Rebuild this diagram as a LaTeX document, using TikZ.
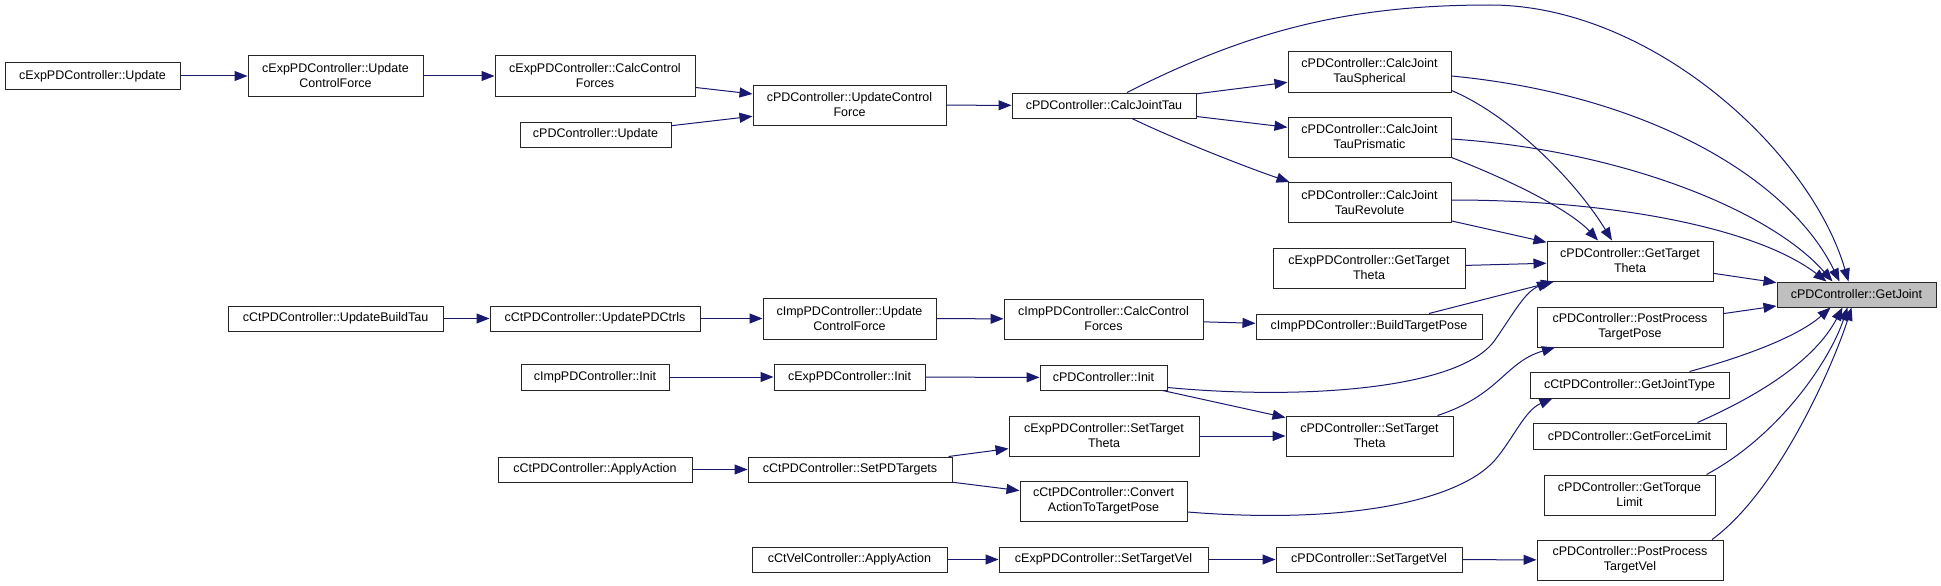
\documentclass[tikz,border=0pt]{standalone}
\usepackage{fontspec}
\setmainfont{Liberation Sans}
\usetikzlibrary{arrows.meta,calc}
\definecolor{edgecol}{RGB}{25,25,112}
\definecolor{hl}{RGB}{191,191,191}
\newcommand\bx[7][]{\node[box,#1,minimum width=#5pt,minimum height=#6pt] (#2) at (#3,#4) {#7};}
\begin{document}
\begin{tikzpicture}[x=1pt,y=-1pt,
  box/.style={draw=black!85, line width=1pt, fill=white, align=center, inner sep=0pt,
    font=\fontsize{12.5}{15}\selectfont},
  edge/.style={draw=edgecol, line width=1pt, -{Triangle[length=13pt,width=10pt]}}]
\useasboundingbox[fill=white] (0,0) rectangle (1941,586);

\bx{expUpd}{92.5}{76}{175}{26}{cExpPDController::Update}
\bx{expUpdCF}{335.5}{76}{175}{40}{cExpPDController::Update\\ControlForce}
\bx{expCalcCF}{595}{76}{200}{40}{cExpPDController::CalcControl\\Forces}
\bx{pdUpdCF}{849.5}{105}{193}{40}{cPDController::UpdateControl\\Force}
\bx{pdUpd}{595.5}{134.5}{151}{25}{cPDController::Update}
\bx{calcTau}{1104}{105.5}{184}{25}{cPDController::CalcJointTau}
\bx{tauSph}{1369.5}{72}{163}{40}{cPDController::CalcJoint\\TauSpherical}
\bx{tauPri}{1369.5}{137}{163}{40}{cPDController::CalcJoint\\TauPrismatic}
\bx{tauRev}{1369.5}{202.5}{163}{40}{cPDController::CalcJoint\\TauRevolute}
\bx{getTT}{1630}{261}{166}{40}{cPDController::GetTarget\\Theta}
\bx[fill=hl]{getJoint}{1856.5}{294.5}{159}{25}{cPDController::GetJoint}
\bx{expGetTT}{1369}{268}{192}{40}{cExpPDController::GetTarget\\Theta}
\bx{buildTP}{1369}{326.5}{226}{25}{cImpPDController::BuildTargetPose}
\bx{ppTP}{1630}{327}{186}{40}{cPDController::PostProcess\\TargetPose}
\bx{getJT}{1629.5}{385}{199}{26}{cCtPDController::GetJointType}
\bx{getFL}{1629.5}{436}{193}{26}{cPDController::GetForceLimit}
\bx{getTL}{1629.5}{495}{171}{40}{cPDController::GetTorque\\Limit}
\bx{ppTV}{1630}{560}{186}{40}{cPDController::PostProcess\\TargetVel}
\bx{ctUBT}{335.5}{318.5}{215}{25}{cCtPDController::UpdateBuildTau}
\bx{ctUPD}{595}{318.5}{210}{25}{cCtPDController::UpdatePDCtrls}
\bx{impUCF}{849.5}{318.5}{173}{41}{cImpPDController::Update\\ControlForce}
\bx{impCCF}{1103.5}{319}{199}{40}{cImpPDController::CalcControl\\Forces}
\bx{impInit}{595}{377}{148}{26}{cImpPDController::Init}
\bx{expInit}{849.5}{377}{151}{26}{cExpPDController::Init}
\bx{pdInit}{1103.5}{377.5}{127}{25}{cPDController::Init}
\bx{expSTT}{1104}{436}{190}{40}{cExpPDController::SetTarget\\Theta}
\bx{pdSTT}{1369.5}{436}{167}{40}{cPDController::SetTarget\\Theta}
\bx{convA}{1103.5}{501}{167}{40}{cCtPDController::Convert\\ActionToTargetPose}
\bx{expSTV}{1103.5}{559.5}{209}{25}{cExpPDController::SetTargetVel}
\bx{pdSTV}{1369}{559.5}{186}{25}{cPDController::SetTargetVel}
\bx{ctApply}{595}{469.5}{194}{25}{cCtPDController::ApplyAction}
\bx{setPD}{850}{469.5}{204}{25}{cCtPDController::SetPDTargets}
\bx{ctVelApply}{849.5}{559.5}{195}{25}{cCtVelController::ApplyAction}

% straight edges
\draw[edge] (expUpd) -- (expUpdCF);
\draw[edge] (expUpdCF) -- (expCalcCF);
\draw[edge] (expCalcCF) -- (pdUpdCF);
\draw[edge] (pdUpd) -- (pdUpdCF);
\draw[edge] (pdUpdCF) -- (calcTau);
\draw[edge] (calcTau) -- (tauSph);
\draw[edge] (calcTau) -- (tauPri);
\draw[edge] (tauRev) -- (getTT);
\draw[edge] (expGetTT) -- (getTT);
\draw[edge] ([xshift=60pt]buildTP.north) -- ([xshift=-76pt]getTT.south);
\draw[edge] (getTT) -- (getJoint);
\draw[edge] (ppTP) -- (getJoint);
\draw[edge] (ctUBT) -- (ctUPD);
\draw[edge] (ctUPD) -- (impUCF);
\draw[edge] (impUCF) -- (impCCF);
\draw[edge] (impCCF) -- (buildTP);
\draw[edge] (impInit) -- (expInit);
\draw[edge] (expInit) -- (pdInit);
\draw[edge] (pdInit) -- (pdSTT);
\draw[edge] (expSTT) -- (pdSTT);
\draw[edge] (ctApply) -- (setPD);
\draw[edge] (setPD) -- (expSTT);
\draw[edge] (setPD) -- (convA);
\draw[edge] (ctVelApply) -- (expSTV);
\draw[edge] (expSTV) -- (pdSTV);
\draw[edge] (pdSTV) -- (ppTV);

% curved edges
\draw[edge] ([xshift=28pt]calcTau.south) .. controls (1170,137) and (1240,165) .. ([xshift=-80pt]tauRev.north);
\draw[edge] ([xshift=23pt]calcTau.north) .. controls (1250,30) and (1350,5) .. (1490,5)
   .. controls (1650,5) and (1810,150) .. ([xshift=-8pt]getJoint.north);
\draw[edge] ([shift={(0,4)}]tauSph.east) .. controls (1650,95) and (1790,180) .. ([xshift=-17pt]getJoint.north);
\draw[edge] ([shift={(0,-2)}]tauSph.south east) .. controls (1510,115) and (1575,180) .. ([xshift=-18pt]getTT.north);
\draw[edge] ([shift={(0,2)}]tauPri.east) .. controls (1620,150) and (1770,210) .. ([xshift=-24pt]getJoint.north);
\draw[edge] (tauPri.south east) .. controls (1510,180) and (1570,210) .. ([xshift=-32pt]getTT.north);
\draw[edge] ([shift={(0,-2.5)}]tauRev.east) .. controls (1620,200) and (1760,230) .. ([xshift=-30pt]getJoint.north);

\draw[edge] ([xshift=60pt]getJT.north) .. controls (1750,355) and (1800,335) .. ([xshift=-26pt]getJoint.south);
\draw[edge] ([xshift=68pt]getFL.north) .. controls (1760,395) and (1815,360) .. ([xshift=-14pt]getJoint.south);
\draw[edge] ([xshift=77pt]getTL.north) .. controls (1780,435) and (1830,360) .. ([xshift=-9pt]getJoint.south);
\draw[edge] ([xshift=82pt]ppTV.north) .. controls (1780,490) and (1835,360) .. ([xshift=-5pt]getJoint.south);

\draw[edge] ([shift={(0,-3)}]pdInit.south east) .. controls (1300,400) and (1460,390) .. (1495,340)
   .. controls (1515,311) and (1525,292) .. ([xshift=-80pt]getTT.south);
\draw[edge] ([xshift=68pt]pdSTT.north) .. controls (1500,395) and (1505,362) .. ([xshift=-75pt]ppTP.south);
\draw[edge] ([shift={(0,11)}]convA.east) .. controls (1350,525) and (1460,500) .. (1495,460)
   .. controls (1513,439) and (1525,410) .. ([xshift=-77pt]getJT.south);
\end{tikzpicture}
\end{document}
